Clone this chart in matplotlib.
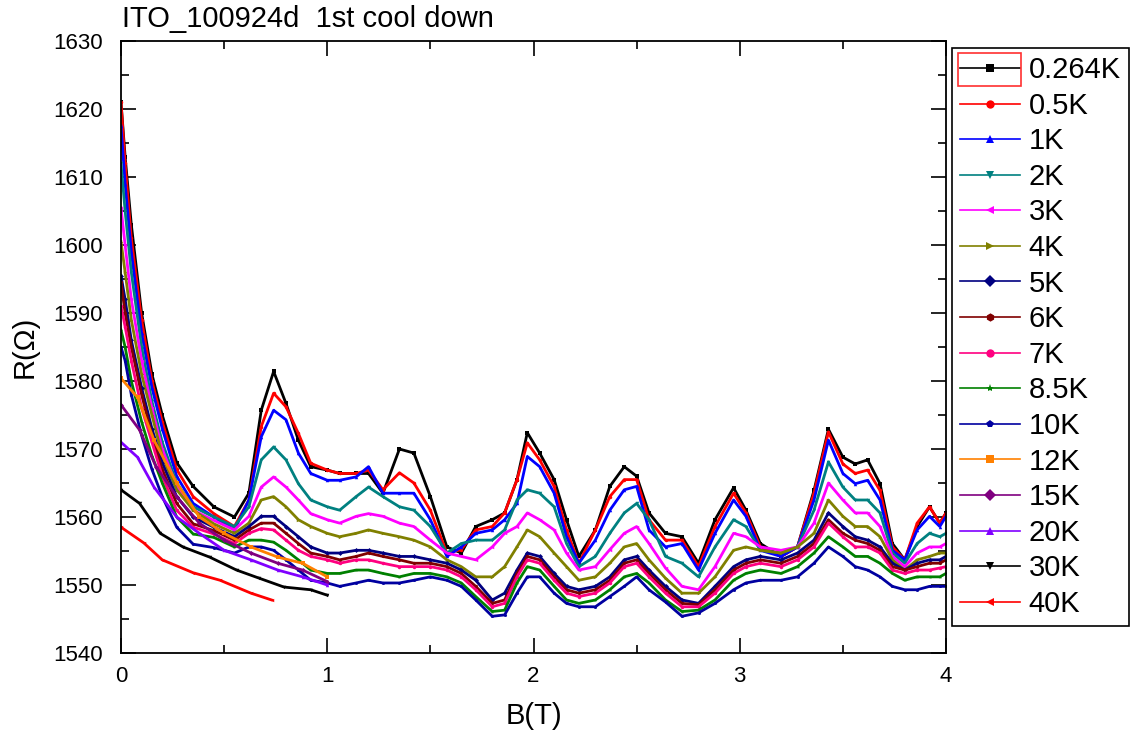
"""Magnetoresistance sweeps of ITO_100924d at several temperatures."""

import matplotlib
matplotlib.use('Agg')
from matplotlib import pyplot as plt
from matplotlib.lines import Line2D
from matplotlib.patches import Rectangle
from matplotlib.ticker import MultipleLocator

plt.rcParams['font.family'] = ['Liberation Sans', 'DejaVu Sans']

# Field values (T) shared by the 0.264K - 10K sweeps
B_LOW_T = [
    0, 0.02, 0.05, 0.1, 0.15, 0.2, 0.27, 0.35, 0.45, 0.55,
    0.62, 0.68, 0.74, 0.8, 0.86, 0.92, 1.0, 1.06, 1.14, 1.2, 1.27,
    1.35, 1.42, 1.5, 1.58, 1.65, 1.72, 1.8, 1.86, 1.92, 1.97,
    2.03, 2.1, 2.16, 2.22, 2.3, 2.37, 2.44, 2.5, 2.56, 2.64,
    2.72, 2.8, 2.88, 2.97, 3.03, 3.1, 3.2, 3.28, 3.36, 3.43,
    3.5, 3.56, 3.62, 3.68, 3.74, 3.8, 3.86, 3.92, 3.97, 4.0,
]

R_0264K = [
    1621, 1613, 1603, 1590, 1581, 1575, 1568, 1564.5, 1561.5, 1560,
    1563.5, 1575.7, 1581.4, 1576.7, 1571.3, 1567.4, 1566.9, 1566.4, 1566.4, 1566.4, 1563.5,
    1570, 1569.4, 1563, 1555.6, 1554.7, 1558.6, 1559.6, 1560.6, 1565.5, 1572.4,
    1569.4, 1565.5, 1559.6, 1554.2, 1558.1, 1564.5, 1567.4, 1566, 1560.6, 1557.6,
    1557.1, 1553.2, 1559.6, 1564.3, 1561, 1556.1, 1554.2, 1555.6, 1563.9, 1572.9,
    1568.8, 1567.8, 1568.4, 1564.9, 1556.1, 1553.7, 1558.6, 1561.5, 1559.1, 1560.6,
]
R_05K = [
    1621, 1612, 1601, 1589, 1580, 1574, 1567, 1563, 1560.5, 1558.6,
    1562.5, 1573.3, 1578.2, 1576.2, 1572.3, 1567.9, 1566.9, 1566.4, 1566.4, 1566.9, 1564,
    1566.5, 1565, 1561, 1554.7, 1555.2, 1558.1, 1558.6, 1560.6, 1565.5, 1570.9,
    1568.4, 1564.5, 1558.1, 1553.2, 1558.1, 1563, 1565.5, 1565.5, 1559.6, 1556.6,
    1556.6, 1552.7, 1558.6, 1563.5, 1560.6, 1555.6, 1554.2, 1555.6, 1563.5, 1572.5,
    1567.8, 1566.4, 1566.9, 1563.9, 1555.6, 1553.7, 1559.1, 1561.5, 1559.1, 1560.6,
]
R_1K = [
    1617.5, 1609, 1599, 1587, 1579, 1573, 1566, 1562, 1560, 1558.1,
    1562.5, 1571.8, 1575.7, 1574.3, 1569.4, 1566.4, 1565.4, 1565.4, 1565.9, 1567.4, 1563.5,
    1563.5, 1563.5, 1559.6, 1554.2, 1555.6, 1557.6, 1558.1, 1559.6, 1562, 1568.9,
    1567.4, 1563.5, 1557.1, 1553.2, 1556.6, 1561, 1564, 1564.5, 1558.1, 1555.6,
    1556.1, 1552.2, 1557.6, 1562.5, 1560.1, 1555.1, 1554.2, 1555.6, 1562.5, 1571.3,
    1566.4, 1564.9, 1565.4, 1562.5, 1555.1, 1553.7, 1558.1, 1560.1, 1558.6, 1560.1,
]
R_2K = [
    1612, 1605, 1596, 1585, 1577, 1571, 1565, 1561.5, 1560, 1558.6,
    1561.5, 1568.4, 1570.3, 1568.4, 1564.9, 1562.5, 1561.5, 1561, 1563, 1564.4, 1563,
    1561.5, 1561, 1558.6, 1554.7, 1556.1, 1556.6, 1556.6, 1558.1, 1562.5, 1564,
    1563.5, 1561.5, 1556.1, 1552.7, 1554.2, 1557.6, 1560.6, 1562, 1559.6, 1554.2,
    1553.2, 1551.2, 1555.6, 1559.6, 1558.6, 1555.1, 1554.7, 1555.6, 1561, 1568.1,
    1564.4, 1562.5, 1562.5, 1560.6, 1554.7, 1553.2, 1556.1, 1557.6, 1557.1, 1557.6,
]
R_3K = [
    1605.5, 1600, 1592, 1583, 1576, 1570, 1564.5, 1561, 1559.5, 1558.1,
    1560.1, 1564.4, 1565.9, 1564.4, 1562.5, 1560.5, 1559.6, 1559.1, 1560.1, 1560.5, 1560.1,
    1559.1, 1558.6, 1556.6, 1554.7, 1554.2, 1553.7, 1555.6, 1557.6, 1558.6, 1560.6,
    1559.6, 1558.1, 1554.7, 1552.2, 1552.7, 1555.2, 1557.6, 1558.6, 1556.1, 1552.5,
    1549.8, 1549.3, 1552.7, 1557.6, 1557.1, 1555.6, 1555.1, 1555.6, 1559.1, 1565,
    1562.5, 1560.6, 1560.6, 1558.6, 1554.2, 1552.7, 1554.7, 1555.6, 1555.6, 1556.1,
]
R_4K = [
    1600.5, 1596, 1589, 1581, 1575, 1569, 1564, 1561, 1559, 1557.6,
    1559.1, 1562.5, 1563, 1561.5, 1559.6, 1558.6, 1557.6, 1557.1, 1557.6, 1558.1, 1557.6,
    1557.1, 1556.6, 1555.6, 1553.7, 1552.7, 1551.2, 1551.2, 1552.7, 1555.6, 1558.1,
    1557.1, 1554.7, 1552.7, 1550.7, 1551.2, 1553.2, 1555.6, 1556.1, 1553.7, 1551,
    1548.8, 1548.8, 1551.2, 1555.1, 1555.6, 1555.1, 1554.7, 1555.6, 1557.6, 1562.5,
    1560.1, 1558.6, 1558.6, 1557.1, 1553.7, 1552.2, 1553.7, 1554.2, 1554.7, 1554.7,
]
R_5K = [
    1595.5, 1592, 1586, 1579, 1573, 1568, 1563, 1560, 1558.5, 1557.1,
    1558.6, 1560.1, 1560.1, 1558.6, 1557.1, 1555.6, 1554.7, 1554.7, 1555.1, 1555.1, 1554.7,
    1554.2, 1554.2, 1553.7, 1553.2, 1552.2, 1550.7, 1547.8, 1548.8, 1552.2, 1554.7,
    1554.2, 1551.7, 1549.8, 1549.3, 1549.8, 1551.2, 1553.7, 1554.2, 1552.2, 1549.8,
    1547.8, 1547.3, 1549.8, 1552.7, 1553.7, 1554.2, 1553.7, 1554.7, 1556.6, 1560.6,
    1558.6, 1557.1, 1556.6, 1555.6, 1553.2, 1552.2, 1553.2, 1553.7, 1553.7, 1554.2,
]
R_6K = [
    1594.5, 1590, 1585, 1578, 1572, 1567, 1562, 1559, 1558, 1556.6,
    1558.1, 1559.1, 1559.1, 1557.6, 1556.1, 1554.7, 1554.2, 1553.7, 1554.2, 1554.7, 1554.2,
    1553.7, 1553.2, 1553.2, 1552.7, 1551.7, 1549.8, 1547.3, 1547.8, 1551.7, 1554.2,
    1553.7, 1551.2, 1549.3, 1548.8, 1549.3, 1550.7, 1553.2, 1553.7, 1551.7, 1549.3,
    1547.3, 1547.1, 1549.3, 1552.2, 1553.2, 1553.7, 1553.2, 1554.2, 1556.1, 1559.6,
    1557.6, 1556.6, 1556.1, 1555.1, 1552.7, 1552.2, 1552.7, 1553.2, 1553.2, 1553.7,
]
R_7K = [
    1591, 1588, 1583, 1576, 1571, 1566, 1561, 1558.5, 1557.5, 1556.1,
    1557.6, 1558.3, 1558.1, 1556.6, 1555.1, 1554.2, 1553.7, 1553.2, 1553.7, 1553.7, 1553.2,
    1552.7, 1552.7, 1552.7, 1552.2, 1551.2, 1549.3, 1546.8, 1547.3, 1551.2, 1553.7,
    1553.2, 1550.7, 1548.8, 1548.3, 1548.8, 1550.3, 1552.7, 1553.2, 1551.2, 1548.8,
    1546.8, 1546.8, 1548.8, 1551.7, 1552.7, 1553.2, 1552.7, 1553.7, 1555.6, 1559.1,
    1557.1, 1555.6, 1555.6, 1554.7, 1552.2, 1551.7, 1552.2, 1552.2, 1552.5, 1552.7,
]
R_85K = [
    1587.5, 1585, 1580, 1574, 1569, 1565, 1560, 1557.5, 1557, 1555.6,
    1556.6, 1556.6, 1556.3, 1555.1, 1553.7, 1552.2, 1551.7, 1551.7, 1552.2, 1552.2, 1551.7,
    1551.2, 1551.7, 1551.7, 1551.2, 1550.3, 1548.3, 1546.1, 1546.3, 1550.3, 1552.7,
    1552.2, 1549.8, 1547.8, 1547.3, 1547.8, 1549.3, 1551.2, 1551.7, 1550.3, 1547.8,
    1546.1, 1546.3, 1547.8, 1550.7, 1551.7, 1552.2, 1551.7, 1552.7, 1554.7, 1557.1,
    1555.6, 1554.2, 1554.2, 1553.2, 1551.7, 1550.7, 1551.2, 1551.2, 1551.2, 1551.7,
]
R_10K = [
    1585, 1583, 1578, 1572, 1567, 1563, 1558.5, 1556, 1555.5, 1554.7,
    1555.6, 1555.6, 1555.1, 1553.7, 1552.2, 1550.7, 1550.3, 1549.8, 1550.3, 1550.7, 1550.3,
    1550.3, 1550.7, 1551.2, 1550.7, 1549.8, 1547.8, 1545.4, 1545.6, 1548.8, 1551.2,
    1551.2, 1548.8, 1547.3, 1546.8, 1546.8, 1548.3, 1549.8, 1551.2, 1549.3, 1547.5,
    1545.4, 1545.9, 1547.3, 1549.3, 1550.3, 1550.7, 1550.7, 1551.2, 1553.2, 1555.6,
    1554.2, 1552.7, 1552.2, 1551.2, 1549.8, 1549.3, 1549.3, 1549.8, 1549.8, 1549.8,
]

# Higher temperature sweeps only go up to 1 T (40K stops earlier)
B_12K = [0, 0.08, 0.16, 0.27, 0.38, 0.5, 0.63, 0.76, 0.88, 1.0]
R_12K = [1580.4, 1577.6, 1571.3, 1565, 1560, 1557.6, 1555.6, 1554.1, 1553.2, 1551.2]
B_15K = [0, 0.09, 0.17, 0.27, 0.38, 0.5, 0.63, 0.76, 0.88, 1.0]
R_15K = [1576.5, 1572.8, 1567.4, 1563, 1559.1, 1556.6, 1554.7, 1553.2, 1552.2, 1550.5]
B_20K = [0, 0.08, 0.16, 0.27, 0.38, 0.5, 0.63, 0.76, 0.88, 1.0]
R_20K = [1571, 1568.8, 1564.4, 1560, 1557.6, 1555.1, 1553.7, 1552.2, 1551.2, 1550]
B_30K = [0, 0.09, 0.19, 0.3, 0.43, 0.56, 0.67, 0.79, 0.92, 1.0]
R_30K = [1564, 1562, 1557.6, 1555.6, 1554.1, 1552.2, 1551, 1549.7, 1549.3, 1548.5]
B_40K = [0, 0.11, 0.2, 0.35, 0.48, 0.63, 0.73]
R_40K = [1558.5, 1556.2, 1553.7, 1551.8, 1550.7, 1548.8, 1547.8]

LABELS = ['0.264K', '0.5K', '1K', '2K', '3K', '4K', '5K', '6K', '7K',
          '8.5K', '10K', '12K', '15K', '20K', '30K', '40K']
COLORS = ['#000000', '#FF0000', '#0000FF', '#008080', '#FF00FF', '#808000',
          '#000080', '#800000', '#FF0080', '#008000', '#0000A0', '#FF8000',
          '#800080', '#8000FF', '#000000', '#FF0000']
MARKERS = ['s', 'o', '^', 'v', '<', '>', 'D', 'h', 'o', '*', 'p', 's',
           'D', '^', 'v', '<']


def main():
    fields = [B_LOW_T] * 11 + [B_12K, B_15K, B_20K, B_30K, B_40K]
    values = [R_0264K, R_05K, R_1K, R_2K, R_3K, R_4K, R_5K, R_6K, R_7K,
              R_85K, R_10K, R_12K, R_15K, R_20K, R_30K, R_40K]

    fig = plt.figure(figsize=(11.34, 7.40), dpi=100)
    ax = fig.add_axes([121 / 1134, 1 - 653 / 740, 825 / 1134, 612 / 740])

    for b, r, c, m in zip(fields, values, COLORS, MARKERS):
        ax.plot(b, r, color=c, lw=2.0, marker=m, ms=2.5, mew=0)

    ax.set_xlim(0, 4)
    ax.set_ylim(1540, 1630)
    ax.xaxis.set_major_locator(MultipleLocator(1))
    ax.xaxis.set_minor_locator(MultipleLocator(0.5))
    ax.yaxis.set_major_locator(MultipleLocator(10))
    ax.yaxis.set_minor_locator(MultipleLocator(5))
    ax.tick_params(which='both', direction='in', top=True, right=True,
                   width=1.2, labelsize=16)
    ax.tick_params(which='major', length=11)
    ax.tick_params(which='minor', length=6)
    ax.tick_params(axis='y', pad=13)
    ax.tick_params(axis='x', pad=9)
    for spine in ax.spines.values():
        spine.set_linewidth(1.3)

    ax.set_xlabel('B(T)', fontsize=21, va='top')
    ax.set_ylabel('R(\u03a9)', fontsize=21)
    ax.xaxis.set_label_coords(0.5, -0.08)
    ax.yaxis.set_label_coords(-0.1, 0.5)

    fig.text(122 / 1134, 1 - 19 / 740, 'ITO_100924d  1st cool down',
             fontsize=21, ha='left', va='center')

    # Legend with larger symbols than the curve markers
    handles = [Line2D([], [], color=c, lw=1.2, marker=m, ms=6, mew=0)
               for c, m in zip(COLORS, MARKERS)]
    leg = fig.legend(handles, LABELS, loc='upper left',
                     bbox_to_anchor=(952 / 1134, 1 - 48 / 740),
                     fontsize=21, handlelength=2.05, handletextpad=0.3,
                     labelspacing=0.26, borderpad=0.28, borderaxespad=0,
                     fancybox=False, framealpha=1, edgecolor='black')
    leg.get_frame().set_linewidth(1.2)

    # Highlight box around the first legend entry
    box = Rectangle((958 / 1134, 1 - 86 / 740), 63 / 1134, 33 / 740,
                    transform=fig.transFigure, fill=False,
                    edgecolor='#FF3030', lw=1.2, zorder=10)
    fig.add_artist(box)

    fig.savefig('out.png', dpi=100)


if __name__ == '__main__':
    main()
